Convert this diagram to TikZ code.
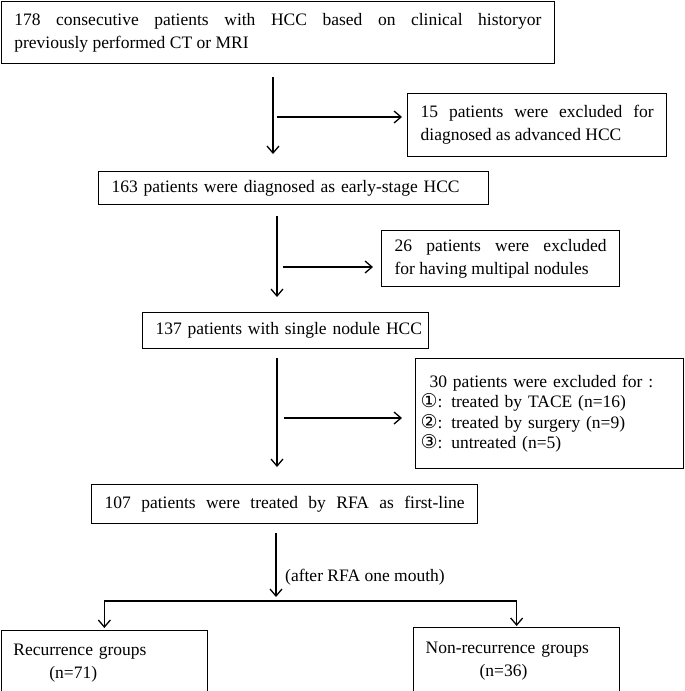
\documentclass[tikz,border=0pt]{standalone}
\usepackage{fontspec}
\setmainfont{Liberation Serif}
\newfontfamily\circfont{DejaVu Sans}
\usetikzlibrary{arrows.meta}
\setlength{\parindent}{0pt}

\begin{document}
\begin{tikzpicture}[x=1pt,y=-1pt,
               box/.style={draw, line width=1.3pt, anchor=north west, inner xsep=13pt, inner ysep=0pt, font=\fontsize{17.5}{23}\selectfont},
               arr/.style={line width=1.3pt, -{Straight Barb[length=7pt,width=12pt]}}]
               \useasboundingbox (0,0) rectangle (685,691);
               \node[box, text width=527pt, minimum height=62pt, align=justify] (start) at (0.7,0.7) {178 consecutive patients with HCC based on clinical historyor\linebreak previously performed CT or MRI};
               \node[box, text width=233pt, minimum height=63pt, align=justify] (excl1) at (407,93) {15 patients were excluded for\linebreak diagnosed as advanced HCC};
               \node[box, text width=364pt, minimum height=33pt, align=left] (early) at (98,171) {163 patients were diagnosed as early-stage HCC};
               \node[box, text width=212pt, minimum height=56pt, align=justify] (excl2) at (381,230) {26 patients were excluded\linebreak for having multipal nodules};
               \node[box, text width=260pt, minimum height=36pt, align=left] (single) at (142,312) {\mbox{137 patients with single nodule HCC}};
               \node[box, text width=258pt, inner xsep=5pt, minimum height=110pt, align=left, font=\fontsize{17.5}{20.5}\selectfont] (excl3) at (415,358) {\hspace*{9pt}30 patients were excluded for :\\{\circfont\fontsize{19}{20}\selectfont ①}: treated by TACE (n=16)\\{\circfont\fontsize{19}{20}\selectfont ②}: treated by surgery (n=9)\\{\circfont\fontsize{19}{20}\selectfont ③}: untreated (n=5)};
               \node[box, text width=360pt, minimum height=39pt] (rfa) at (91,484) {\hbox to 360pt{107 \hfill patients \hfill were \hfill treated \hfill by \hfill RFA \hfill as \hfill first-line}};
               \node[box, text width=182pt, inner xsep=12pt, minimum height=64pt, align=left] (rec) at (0.7,630) {Recurrence groups\\\hspace*{36pt}(n=71)};
               \node[box, text width=182pt, inner xsep=12pt, minimum height=67pt, align=left] (nonrec) at (413,627) {Non-recurrence groups\\\hspace*{54pt}(n=36)};
               \node[anchor=west, inner sep=0pt, font=\fontsize{17.5}{23}\selectfont] (after) at (285,577) {(after RFA one mouth)};
               \coordinate (v1) at (273,0);
               \coordinate (v2) at (277,0);
               \coordinate (v3) at (277,0);
               \coordinate (b1) at (277,117);
               \coordinate (b2) at (283,267);
               \coordinate (b3) at (284,418);
               \coordinate (split) at (276,601);
               \draw[arr, shorten <=13pt, shorten >=17pt] (start.south -| v1) -- (early.north -| v1);
               \draw[arr, shorten >=5pt] (b1) -- (b1 -| excl1.west);
               \draw[arr, shorten <=11pt, shorten >=15pt] (early.south -| v2) -- (single.north -| v2);
               \draw[arr, shorten >=8pt] (b2) -- (b2 -| excl2.west);
               \draw[arr, shorten <=9pt, shorten >=17pt] (single.south -| v3) -- (rfa.north -| v3);
               \draw[arr, shorten >=13pt] (b3) -- (b3 -| excl3.west);
               \draw[arr, shorten <=9pt, shorten >=4pt] (rfa.south -| split) -- (split);
               \draw[arr, shorten >=2pt] (split) -| (rec.north);
               \draw[arr, shorten >=1pt] (split) -| (nonrec.north);
\end{tikzpicture}
\end{document}
